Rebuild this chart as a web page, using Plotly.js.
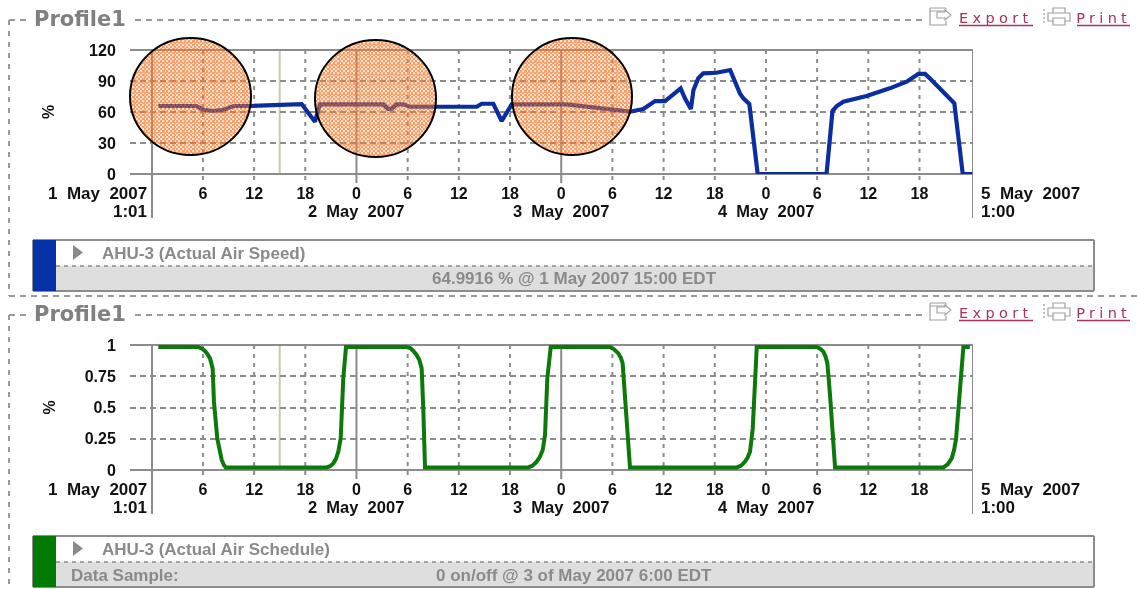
<!DOCTYPE html>
<html><head><meta charset="utf-8">
<script src="https://cdn.plot.ly/plotly-3.0.1.min.js"></script>
<style>
html,body{margin:0;padding:0;background:#fff;overflow:hidden}
#chart{width:1137px;height:589px;filter:blur(0.35px)}
.ls text{letter-spacing:4.3px}
</style></head><body><div id="chart"></div>
<script>
// Hours are counted from 1 May 2007 00:00
const speedHours=[0.77,5.26,6.04,7.2,8.38,9.56,11.5,17.58,19.13,19.64,19.72,27.14,27.73,28.13,28.7,29.49,30.27,33,38.09,38.68,40.04,41.02,42.2,48.64,53.72,55.87,56.06,57.62,59,60.17,62,62.5,63.2,63.5,64.07,64.65,66.2,67.8,68.95,69.35,70.05,71.03,79.1,79.8,80.3,81.07,83.8,86.5,88.5,89.86,90.65,91.2,92.4,94.08,95.07,96.2];
const speedValues=[65.8,65.8,62,61,62,65.8,65.8,67.7,50.6,66.4,67.4,67.4,62.9,63.2,67.4,67.4,65.1,65.1,65.1,68,68,51.3,67.4,67.4,62,60.3,60.3,62.9,70.6,70.6,82.9,73.2,62.9,81.3,92.6,97.4,98,100.6,78,73.2,67.7,0,0,61,65.8,70,75.5,82.9,89.3,96.8,96.8,92.6,82,68.4,0,0];
const scheduleHours=[0.77,5.45,5.9,6.24,6.55,6.83,7.14,7.29,7.68,8.2,8.45,8.67,20.5,20.9,21.28,21.6,21.87,22.15,22.45,22.77,29.88,30.3,30.66,31.05,31.37,31.64,31.83,32.03,44.14,44.65,45.12,45.5,45.83,46.1,46.37,46.77,53.72,54.2,54.69,55.0,55.2,55.48,56.06,68.57,69.1,69.54,69.85,70.13,70.45,70.92,77.95,78.35,78.73,79.0,79.2,79.51,80.1,92.8,93.3,93.78,94.05,94.29,94.83,95.14,95.9];
const scheduleValues=[.984,.984,.97,.952,.925,.893,.813,.547,.253,.08,.04,.021,.021,.03,.053,.09,.147,.253,.733,.984,.984,.975,.952,.92,.88,.813,.493,.021,.021,.035,.067,.105,.16,.28,.733,.984,.984,.965,.933,.895,.853,.6,.021,.021,.035,.067,.1,.147,.333,.984,.984,.97,.947,.905,.853,.6,.021,.021,.045,.093,.16,.253,.76,.984,.984];
const xTickHours=[6,12,18,24,30,36,42,48,54,60,66,72,78,84,90];
const xTickText=['6','12','18','0','6','12','18','0','6','12','18','0','6','12','18'];
const solidHours=[24,48];
const edgeHours=[0.03,96.27];
const cursorHour=15;
const dateHours=[24,48,72];
const dateText=['2\u00a0\u00a0May\u00a0\u00a02007','3\u00a0\u00a0May\u00a0\u00a02007','4\u00a0\u00a0May\u00a0\u00a02007'];
const startDate=['1\u00a0\u00a0May\u00a0\u00a02007','1:01'];
const endDate=['5\u00a0\u00a0May\u00a0\u00a02007','1:00'];
const speedTicks=[0,30,60,90,120];
const scheduleTicks=[0,0.25,0.5,0.75,1];
const scheduleTickText=['0','0.25','0.5','0.75','1'];
const seriesNames=['AHU-3 (Actual Air Speed)','AHU-3 (Actual Air Schedule)'];
const readouts=['64.9916 % @ 1 May 2007 15:00 EDT','0 on/off @ 3 of May 2007 6:00 EDT'];

const W=1137,H=589;
const GREY='#8c8c8c',TXT='#8a8a8a',BLUE='#0a2da0',GREEN='#0b7a0b',SERIF='"Liberation Sans",Arial,sans-serif',CRIM='#a83456';
const fx=p=>p/W, fy=p=>1-p/H;
const shapes=[],annotations=[];
function line(x0,y0,x1,y1,color,width,dash,layer){shapes.push({type:'line',xref:'paper',yref:'paper',x0:fx(x0),x1:fx(x1),y0:fy(y0),y1:fy(y1),layer:layer||'below',line:{color,width,dash:dash||'solid'}});}
function rect(x0,y0,x1,y1,fill,lc,lw){shapes.push({type:'rect',xref:'paper',yref:'paper',x0:fx(x0),x1:fx(x1),y0:fy(y0),y1:fy(y1),layer:'below',fillcolor:fill,line:{color:lc||fill,width:lw===undefined?0:lw}});}
function poly(pts,fill,lc,lw,layer){const d=pts.map((p,i)=>(i?'L':'M')+fx(p[0])+','+fy(p[1])).join(' ')+(fill?' Z':'');shapes.push({type:'path',xref:'paper',yref:'paper',path:d,layer:layer||'below',fillcolor:fill||'rgba(0,0,0,0)',line:{color:lc||fill,width:lw===undefined?1:lw}});}
function text(t,x,y,opt){opt=opt||{};annotations.push({text:t,xref:'paper',yref:'paper',x:fx(x),y:fy(y),xanchor:opt.a||'left',yanchor:'middle',showarrow:false,borderpad:0,font:{family:opt.f||SERIF,size:opt.s||16,color:opt.c||TXT,weight:opt.w===undefined?700:opt.w}});}

function panel(top,bottom,plotTop,plotBot,axis,name,readout,color,sample){
  // frame
  line(9,top,30,top,'#9a9a9a',2,'6px,5px');
  line(135,top,925,top,'#9a9a9a',2,'6px,5px');
  line(9,top,9,bottom,'#9a9a9a',2,'5px,6px');
  text('Profile1',33,top-1,{f:'"DejaVu Sans",sans-serif',s:21,c:'#808080'});
  // plot lines
  const xa=axis===1?'x':'x2';
  xTickHours.forEach(h=>{
    const solid=solidHours.includes(h);
    shapes.push({type:'line',xref:xa,yref:'paper',x0:h,x1:h,y0:fy(plotTop),y1:fy(plotBot+9),layer:'below',line:{color:GREY,width:2,dash:solid?'solid':'4px,5px'}});
  });
  edgeHours.forEach(h=>shapes.push({type:'line',xref:xa,yref:'paper',x0:h,x1:h,y0:fy(plotTop),y1:fy(plotBot+44),layer:'below',line:{color:GREY,width:2}}));
  shapes.push({type:'line',xref:xa,yref:'paper',x0:cursorHour,x1:cursorHour,y0:fy(plotTop),y1:fy(plotBot),layer:'below',line:{color:'#c9c9ab',width:2}});
  line(130,plotTop,973,plotTop,GREY,2);
  line(130,plotBot,973,plotBot,GREY,2);
  // date labels
  dateHours.forEach((h,i)=>annotations.push({text:dateText[i],xref:xa,yref:'paper',x:h,y:fy(plotBot+37),xanchor:'center',yanchor:'middle',showarrow:false,font:{family:SERIF,size:16.5,color:'#111',weight:700}}));
  text(startDate[0],148,plotBot+19.5,{a:'right',c:'#111',s:17});
  text(startDate[1],148,plotBot+37.5,{a:'right',c:'#111',s:17});
  text(endDate[0],980,plotBot+19.5,{c:'#111',s:17});
  text(endDate[1],980,plotBot+37.5,{c:'#111',s:17});
  // series box
  const bt=plotBot+66,bb=plotBot+117,bm=plotBot+92;
  rect(56,bm,1094,bb,'#dedede');
  line(33,bt,1094,bt,GREY,2);line(33,bb,1094,bb,GREY,2);
  line(33,bt,33,bb,GREY,2);line(1094,bt,1094,bb,GREY,2);
  line(56,bm,1094,bm,GREY,1.6,'4px,4px');
  rect(33,bt,56,bb,color);
  poly([[73,bt+5],[83,bt+12.5],[73,bt+20]],TXT,TXT,0);
  text(name,101,bt+13.5,{s:17});
  text(readout,574,bb-12,{a:'center',s:17});
  if(sample) text(sample,70,bb-12,{s:17});
  // Export and Print
  const iy=top-9;
  text('Export',995.5,iy+6.5,{a:'center',f:'"DejaVu Sans",sans-serif',s:14.5,c:CRIM,w:400});
  line(959,iy+14.5,1033,iy+14.5,CRIM,1.5,'solid','above');
  text('Print',1103.5,iy+6.5,{a:'center',f:'"DejaVu Sans",sans-serif',s:14.5,c:CRIM,w:400});
  line(1077,iy+14.5,1130,iy+14.5,CRIM,1.5,'solid','above');
  poly([[930,iy-3],[946,iy-3],[946,iy+0],[930,iy+0]],null,'#a0a0a0',1);
  poly([[930,iy-3],[930,iy+14],[946,iy+14],[946,iy+10]],null,'#a0a0a0',1.2);
  poly([[937,iy+1],[945,iy+1],[945,iy-1],[951,iy+4],[945,iy+9],[945,iy+7],[937,iy+7]],'#ffffff','#a0a0a0',1.1);
  line(1044,iy-2,1044,iy+14,'#a8a8a8',1.4,'2px,2px');
  poly([[1053,iy+2],[1053,iy-3],[1065,iy-3],[1065,iy+2]],null,'#a0a0a0',1.2);
  poly([[1053,iy+10],[1048,iy+10],[1048,iy+2],[1070,iy+2],[1070,iy+10],[1065,iy+10]],null,'#a0a0a0',1.2);
  poly([[1053,iy+7],[1053,iy+14],[1065,iy+14],[1065,iy+7]],'#ffffff','#a0a0a0',1.2);
}
panel(20,296,50,174,1,seriesNames[0],readouts[0],'#0632a8',null);
panel(315,589,345,470,2,seriesNames[1],readouts[1],'#007a00','Data Sample:');
line(9,296,1137,296,'#9a9a9a',2,'6px,5px');

// overlay discs: a translucent dithered orange mesh that lets the chart show through
function disc(w,h){
  const c=document.createElement('canvas');c.width=w;c.height=h;
  const g=c.getContext('2d');const im=g.createImageData(w,h);
  const cx=w/2,cy=h/2;
  for(let y=0;y<h;y++)for(let x=0;x<w;x++){
    const inside=((x+.5-cx)/cx)**2+((y+.5-cy)/cy)**2<=1;
    if(!inside)continue;
    const i=(y*w+x)*4;
    const gridLine=(x%10===4)||(y%10===4);
    const dot=((x>>1)+(y>>1))%2===0;
    const col=gridLine?[245,115,40]:dot?[245,110,30]:[255,160,90];
    const alpha=gridLine?.62:dot?.68:.3;
    im.data[i]=col[0];im.data[i+1]=col[1];im.data[i+2]=col[2];im.data[i+3]=Math.round(alpha*255);
  }
  g.putImageData(im,0,0);return c.toDataURL('image/png');
}
const discs=[[130,38,251,155],[315,40,436,157],[512,38,632,155]];
const images=discs.map(d=>({source:disc(d[2]-d[0],d[3]-d[1]),xref:'paper',yref:'paper',x:fx(d[0]),y:fy(d[1]),sizex:(d[2]-d[0])/W,sizey:(d[3]-d[1])/H,sizing:'stretch',xanchor:'left',yanchor:'top',layer:'above'}));
discs.forEach(d=>shapes.push({type:'circle',xref:'paper',yref:'paper',x0:fx(d[0]),x1:fx(d[2]),y0:fy(d[1]),y1:fy(d[3]),layer:'above',line:{color:'#000',width:2},fillcolor:'rgba(0,0,0,0)'}));

const xrange=[-2.55,96.27];
const xaxis=a=>({domain:[130/W,973/W],range:xrange,anchor:a,showgrid:false,zeroline:false,showline:false,tickmode:'array',tickvals:xTickHours,ticktext:xTickText,ticks:'outside',ticklen:5,tickcolor:'rgba(0,0,0,0)',tickfont:{family:SERIF,size:16,color:'#111',weight:700},fixedrange:true});
const yaxis=(a,top,bot,rng,vals,txt,st)=>({domain:[fy(bot),fy(top)],range:rng,anchor:a,showgrid:true,griddash:'6px,4px',gridcolor:GREY,gridwidth:2,zeroline:false,showline:false,tickmode:'array',tickvals:vals,ticktext:txt,ticks:'outside',ticklen:10,tickcolor:'rgba(0,0,0,0)',tickfont:{family:SERIF,size:16,color:'#111',weight:700},title:{text:'%',standoff:st,font:{family:SERIF,size:16,color:'#111',weight:700}},fixedrange:true});

const data=[
 {x:speedHours,y:speedValues,type:'scatter',mode:'lines',xaxis:'x',yaxis:'y',cliponaxis:false,line:{color:BLUE,width:4.2},name:seriesNames[0],hoverinfo:'skip'},
 {x:scheduleHours,y:scheduleValues,type:'scatter',mode:'lines',xaxis:'x2',yaxis:'y2',cliponaxis:false,line:{color:GREEN,width:4},name:seriesNames[1],hoverinfo:'skip'}
];
const layout={width:W,height:H,margin:{l:0,r:0,t:0,b:0,pad:0},paper_bgcolor:'#fff',plot_bgcolor:'rgba(0,0,0,0)',showlegend:false,
 xaxis:xaxis('y'),xaxis2:xaxis('y2'),
 yaxis:yaxis('x',50,174,[0,120],speedTicks,speedTicks.map(String),30),
 yaxis2:yaxis('x2',345,470,[0,1],scheduleTicks,scheduleTickText,25),
 shapes,annotations,images};
Plotly.newPlot('chart',data,layout,{displayModeBar:false,staticPlot:true}).then(()=>{
  document.querySelectorAll('.annotation').forEach(g=>{const t=g.textContent;if(t==='Export'||t==='Print')g.classList.add('ls');});
});
</script></body></html>
